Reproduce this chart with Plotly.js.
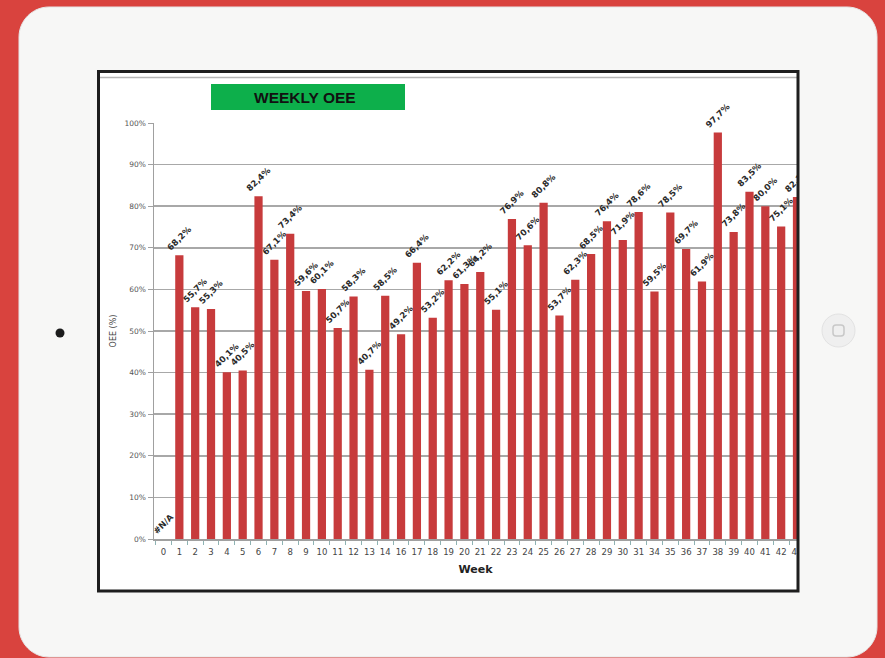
<!DOCTYPE html>
<html>
<head>
<meta charset="utf-8">
<script src="https://cdn.plot.ly/plotly-3.0.1.min.js"></script>
<style>
  html, body { margin: 0; padding: 0; background: #D9433E; }
  #chart { width: 885px; height: 658px; }
</style>
</head>
<body>
<div id="chart"></div>
<script>
// ---- data ----
const weeks = ['0','1','2','3','4','5','6','7','8','9','10','11','12','13','14','16','17','18','19','20','21','22','23','24','25','26','27','28','29','30','31','34','35','36','37','38','39','40','41','42','43'];
const oee = [null,68.2,55.7,55.3,40.1,40.5,82.4,67.1,73.4,59.6,60.1,50.7,58.3,40.7,58.5,49.2,66.4,53.2,62.2,61.3,64.2,55.1,76.9,70.6,80.8,53.7,62.3,68.5,76.4,71.9,78.6,59.5,78.5,69.7,61.9,97.7,73.8,83.5,80.0,75.1,82.2];
const yTicks = [0,10,20,30,40,50,60,70,80,90,100];
const yTickText = ['0%','10%','20%','30%','40%','50%','60%','70%','80%','90%','100%'];
const chartTitle = 'WEEKLY OEE';
const xTitle = 'Week';
const yTitle = 'OEE (%)';
const naLabel = '#N/A';

// ---- layout geometry (pixels) ----
const W = 885, H = 658;
const L = 154, R = 797, T = 123, B = 539;
const px = x => (x - L) / (R - L);
const py = y => (B - y) / (B - T);

function roundRect(x0, y0, x1, y1, r) {
  const k = 0.45;
  const P = (x, y) => px(x) + ',' + py(y);
  return 'M' + P(x0 + r, y0) +
    ' L' + P(x1 - r, y0) +
    ' C' + P(x1 - r * k, y0) + ' ' + P(x1, y0 + r * k) + ' ' + P(x1, y0 + r) +
    ' L' + P(x1, y1 - r) +
    ' C' + P(x1, y1 - r * k) + ' ' + P(x1 - r * k, y1) + ' ' + P(x1 - r, y1) +
    ' L' + P(x0 + r, y1) +
    ' C' + P(x0 + r * k, y1) + ' ' + P(x0, y1 - r * k) + ' ' + P(x0, y1 - r) +
    ' L' + P(x0, y0 + r) +
    ' C' + P(x0, y0 + r * k) + ' ' + P(x0 + r * k, y0) + ' ' + P(x0 + r, y0) + ' Z';
}

const labels = oee.map(v => v === null ? naLabel : v.toFixed(1).replace('.', ',') + '%');
const heights = oee.map(v => v === null ? 0 : v);

const trace = {
  type: 'bar',
  x: weeks,
  y: heights,
  text: labels,
  textposition: 'outside',
  textangle: -45,
  constraintext: 'none',
  cliponaxis: false,
  outsidetextfont: { family: 'DejaVu Sans, Verdana, sans-serif', size: 8.5, color: '#2A2A2A', weight: 700 },
  marker: { color: '#C73B3C', line: { width: 0 } },
  hoverinfo: 'skip'
};

const shapes = [
  // iPad body
  { type: 'path', xref: 'paper', yref: 'paper', layer: 'below',
    path: roundRect(19, 7, 877, 657, 30), fillcolor: '#F7F7F6', line: { color: '#E6E6E6', width: 1 } },
  // chart sheet
  { type: 'rect', xref: 'paper', yref: 'paper', layer: 'below',
    x0: px(98), x1: px(798), y0: py(71), y1: py(591), fillcolor: '#FFFFFF', line: { width: 0 } },
  // thin line near frame top
  { type: 'line', xref: 'paper', yref: 'paper', layer: 'below',
    x0: px(100), x1: px(797), y0: py(77.5), y1: py(77.5), line: { color: '#B5B5B5', width: 1.5 } },
  // green title box
  { type: 'rect', xref: 'paper', yref: 'paper', layer: 'below',
    x0: px(211), x1: px(405), y0: py(84), y1: py(110), fillcolor: '#0DAF4B', line: { width: 0 } },
  // cover right of frame (clips the last bar / label / tick)
  { type: 'rect', xref: 'paper', yref: 'paper', layer: 'above',
    x0: px(798), x1: px(865), y0: py(60), y1: py(600), fillcolor: '#F7F7F6', line: { width: 0 } },
  // frame border
  { type: 'rect', xref: 'paper', yref: 'paper', layer: 'above',
    x0: px(98.5), x1: px(798), y0: py(71.5), y1: py(591), fillcolor: 'rgba(0,0,0,0)', line: { color: '#1E1E1E', width: 3 } },
  // camera
  { type: 'circle', xref: 'paper', yref: 'paper', layer: 'above',
    x0: px(55.5), x1: px(64.5), y0: py(328.5), y1: py(337.5), fillcolor: '#1C1C1C', line: { width: 0 } },
  // home button
  { type: 'circle', xref: 'paper', yref: 'paper', layer: 'above',
    x0: px(822), x1: px(855), y0: py(314), y1: py(347), fillcolor: '#EFEFEF', line: { color: '#E2E2E2', width: 1 } },
  { type: 'path', xref: 'paper', yref: 'paper', layer: 'above',
    path: roundRect(833, 325, 844, 336, 3), fillcolor: 'rgba(0,0,0,0)', line: { color: '#C8C8C8', width: 1.5 } }
];

const layout = {
  width: W, height: H,
  margin: { l: L, r: W - R, t: T, b: H - B, pad: 0 },
  paper_bgcolor: '#D9433E',
  plot_bgcolor: '#FFFFFF',
  separators: ',.',
  showlegend: false,
  bargap: 0.48,
  font: { family: 'DejaVu Sans, Verdana, sans-serif', color: '#555' },
  xaxis: {
    type: 'category',
    range: [-0.6, 40.0],
    tickson: 'boundaries',
    ticks: 'outside', ticklen: 4, tickcolor: '#8FB3B3', tickwidth: 1,
    ticklabelstandoff: 4,
    showline: true, linecolor: '#A0A0A0', linewidth: 1.5,
    showgrid: false,
    tickangle: 0,
    tickfont: { size: 8.5, color: '#444' },
    title: { text: xTitle, font: { size: 11, color: '#222', weight: 700 }, standoff: 9 },
    fixedrange: true, automargin: false
  },
  yaxis: {
    range: [0, 100],
    tickvals: yTicks, ticktext: yTickText,
    ticks: 'outside', ticklen: 5, tickcolor: '#A0A0A0',
    showline: true, linecolor: '#A0A0A0', linewidth: 1.5,
    showgrid: true, gridcolor: '#A8A8A8', gridwidth: 1.5,
    zeroline: false,
    tickfont: { size: 7.5, color: '#555' },
    title: { text: yTitle, font: { size: 8, color: '#444' }, standoff: 6 },
    fixedrange: true, automargin: false
  },
  shapes: shapes,
  annotations: [
    { xref: 'paper', yref: 'paper', x: px(305), y: py(97), text: chartTitle, showarrow: false,
      xanchor: 'center', yanchor: 'middle',
      font: { family: 'Liberation Sans Narrow, Arial Narrow, Liberation Sans, Arial, sans-serif', size: 15.5, color: '#111', weight: 700 } }
  ]
};

Plotly.newPlot('chart', [trace], layout, { staticPlot: true, displayModeBar: false });
</script>
</body>
</html>
